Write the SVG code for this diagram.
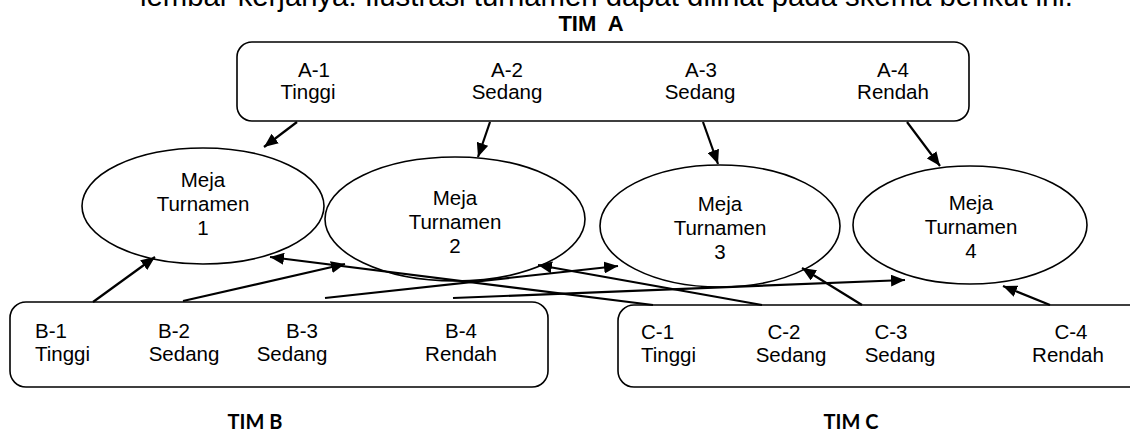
<svg xmlns="http://www.w3.org/2000/svg" width="1130" height="432" viewBox="0 0 1130 432">
<defs>
<style>
.t{font-family:"Liberation Sans",Arial,sans-serif;font-size:20.5px;fill:#000}
.c{text-anchor:middle}
.box{fill:#fff;stroke:#000;stroke-width:1.6}
.ell{fill:#fff;stroke:#000;stroke-width:1.6}
.cn line{stroke:#000;stroke-width:2.2;marker-end:url(#ah)}
.tb{font-family:Lato,"Open Sans",sans-serif;font-weight:bold;font-size:20px;text-anchor:middle;fill:#000}
</style>
<marker id="ah" markerUnits="userSpaceOnUse" markerWidth="14" markerHeight="12" refX="14" refY="6" orient="auto">
<path d="M0,0 L14,6 L0,12 z" fill="#000"/>
</marker>
</defs>
<rect width="1130" height="432" fill="#fff"/>
<text class="t" x="140" y="6" style="font-size:29px" textLength="933" lengthAdjust="spacingAndGlyphs">lembar kerjanya. Ilustrasi turnamen dapat dilihat pada skema berikut ini.</text>
<text x="591" y="31" xml:space="preserve" style="font-family:'Liberation Sans',Arial,sans-serif;font-weight:bold;font-size:22px;text-anchor:middle">TIM  A</text>

<g id="timA">
<rect class="box" x="237" y="42" width="732" height="79" rx="15"/>
<text class="t c" x="314" y="77">A-1</text><text class="t c" x="308" y="99">Tinggi</text>
<text class="t c" x="507" y="77">A-2</text><text class="t c" x="507" y="99">Sedang</text>
<text class="t c" x="701" y="77">A-3</text><text class="t c" x="700" y="99">Sedang</text>
<text class="t c" x="893" y="77">A-4</text><text class="t c" x="893" y="99">Rendah</text>
</g>

<g id="meja1">
<ellipse class="ell" cx="203" cy="206" rx="121" ry="58"/>
<text class="t c" x="203" y="187">Meja</text><text class="t c" x="203" y="211">Turnamen</text><text class="t c" x="203" y="235">1</text>
</g>
<g id="meja2">
<ellipse class="ell" cx="455" cy="219" rx="130" ry="62"/>
<text class="t c" x="455" y="205">Meja</text><text class="t c" x="455" y="229">Turnamen</text><text class="t c" x="455" y="253">2</text>
</g>
<g id="meja3">
<ellipse class="ell" cx="720" cy="226" rx="120" ry="61"/>
<text class="t c" x="720" y="211">Meja</text><text class="t c" x="720" y="235">Turnamen</text><text class="t c" x="720" y="259">3</text>
</g>
<g id="meja4">
<ellipse class="ell" cx="970" cy="225" rx="117" ry="59"/>
<text class="t c" x="971" y="210">Meja</text><text class="t c" x="971" y="234">Turnamen</text><text class="t c" x="971" y="258">4</text>
</g>

<g id="timB">
<rect class="box" x="10" y="302" width="538" height="85" rx="16"/>
<text class="t" x="35" y="338">B-1</text><text class="t" x="35" y="361">Tinggi</text>
<text class="t c" x="174" y="338">B-2</text><text class="t c" x="184" y="361">Sedang</text>
<text class="t c" x="302" y="338">B-3</text><text class="t c" x="292" y="361">Sedang</text>
<text class="t c" x="461" y="338">B-4</text><text class="t c" x="461" y="361">Rendah</text>
<text class="tb" x="255" y="429">TIM B</text>
</g>

<g id="timC">
<rect class="box" x="618" y="305" width="530" height="82" rx="16"/>
<text class="t" x="641" y="339">C-1</text><text class="t" x="641" y="362">Tinggi</text>
<text class="t c" x="784" y="339">C-2</text><text class="t c" x="791" y="362">Sedang</text>
<text class="t c" x="891" y="339">C-3</text><text class="t c" x="900" y="362">Sedang</text>
<text class="t c" x="1071" y="339">C-4</text><text class="t c" x="1068" y="362">Rendah</text>
<text class="tb" x="851" y="429">TIM C</text>
</g>

<g id="connectors" class="cn">
<line x1="297" y1="122" x2="264" y2="147"/>
<line x1="490" y1="122" x2="478" y2="157"/>
<line x1="703" y1="122" x2="718" y2="164"/>
<line x1="907" y1="122" x2="940" y2="166"/>
<line x1="93" y1="302" x2="155" y2="257"/>
<line x1="183" y1="301" x2="345" y2="264"/>
<line x1="325" y1="298" x2="618" y2="266"/>
<line x1="453" y1="298" x2="905" y2="280"/>
<line x1="653" y1="305" x2="270" y2="257"/>
<line x1="762" y1="305" x2="538" y2="265"/>
<line x1="862" y1="305" x2="802" y2="268"/>
<line x1="1050" y1="305" x2="1003" y2="286"/>
</g>
</svg>
